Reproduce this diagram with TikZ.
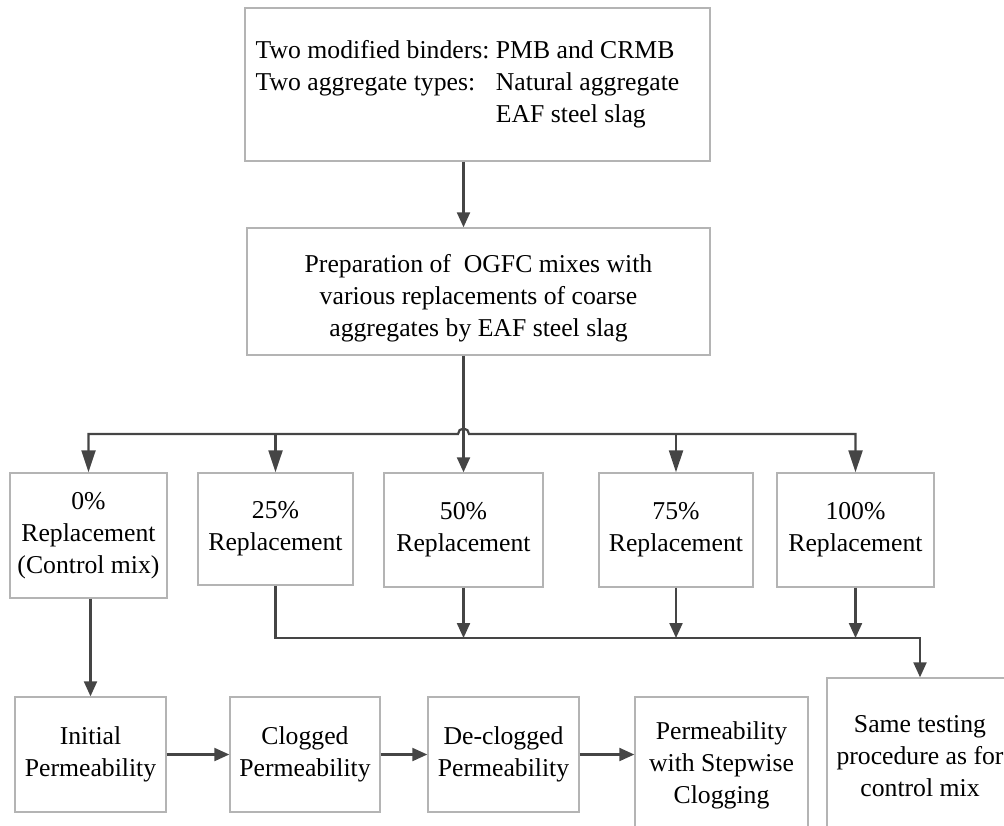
\documentclass[tikz,border=0pt]{standalone}
\usepackage{fontspec}
\setmainfont{Liberation Serif}
\usetikzlibrary{arrows.meta,calc}
\definecolor{boxgray}{HTML}{B4B4B4}
\definecolor{conngray}{HTML}{454545}

\begin{document}
\begin{tikzpicture}[x=0.5pt,y=-0.5pt,
  box/.style={draw=boxgray, line width=0.7pt, align=center, inner sep=0pt,
    font=\fontsize{12.85}{16}\selectfont},
  conn/.style={draw=conngray, line width=1.1pt},
  bigtip/.style={-{Triangle[length=11pt,width=7pt]}},
  bothtip/.style={{Triangle[length=11pt,width=7pt]}-{Triangle[length=11pt,width=7pt]}},
  midtip/.style={-{Triangle[length=7.5pt,width=6.5pt]}}]
\useasboundingbox (0,0) rectangle (1004,825);

\node[box, minimum width=232.5pt, minimum height=76.5pt] (spec) at (477.5,84.5)
  {\begin{tabular}{@{}l@{\ }l@{\hspace{10pt}}}
   Two modified binders: & PMB and CRMB\\
   Two aggregate types: & Natural aggregate\\
   & EAF steel slag
   \end{tabular}};
\node[box, minimum width=231.5pt, minimum height=63.5pt] (prep) at (478.5,291.5)
  {\mbox{}\\Preparation of~ OGFC mixes with\\various replacements of coarse\\aggregates by EAF steel slag};

\node[box, minimum width=78.5pt, minimum height=62.5pt] (zero) at (88.5,535.5) {0\%\\Replacement\\(Control mix)};
\node[box, minimum width=77.5pt, minimum height=56pt] (twentyfive) at (275.5,529) {25\%\\Replacement};
\node[box, minimum width=79.5pt, minimum height=57pt] (fifty) at (463.5,530) {50\%\\Replacement};
\node[box, minimum width=77pt, minimum height=57pt] (seventyfive) at (676,530) {75\%\\Replacement};
\node[box, minimum width=78.5pt, minimum height=57pt] (hundred) at (855.5,530) {100\%\\Replacement};

\node[box, minimum width=75.5pt, minimum height=57.5pt] (initial) at (90.5,754.5) {Initial\\Permeability};
\node[box, minimum width=75pt, minimum height=57.5pt] (clogged) at (305,754.5) {Clogged\\Permeability};
\node[box, minimum width=75.5pt, minimum height=57.5pt] (declogged) at (503.5,754.5) {De-clogged\\Permeability};
\node[box, minimum width=86.5pt, minimum height=68pt] (stepwise) at (721.5,765) {Permeability\\with Stepwise\\Clogging};
\node[box, minimum width=93pt, minimum height=78pt] (same) at (920,756) {Same testing\\procedure as for\\control mix};

\coordinate (bus1) at (0,434);
\coordinate (bus2) at (0,638);

\draw[conn,midtip] (spec.south -| fifty) -- (prep.north -| fifty);
\draw[conn,midtip] (prep.south -| fifty) -- (fifty.north);
\draw[conn,bothtip] (zero.north) |- ($(bus1 -| fifty)+(-5.5,0)$)
  arc[start angle=180, end angle=0, radius=2.75pt] -| (hundred.north);
\foreach \n in {twentyfive,seventyfive}
  \draw[conn,bigtip] (bus1 -| \n) -- (\n.north);

\draw[conn,midtip] (twentyfive.south) |- (bus2 -| same) -- (same.north);
\foreach \n in {fifty,seventyfive,hundred}
  \draw[conn,midtip] (\n.south) -- (bus2 -| \n);

\draw[conn,midtip] (zero.south -| initial) -- (initial.north);
\draw[conn,midtip] (initial) -- (clogged);
\draw[conn,midtip] (clogged) -- (declogged);
\draw[conn,midtip] (declogged.east) -- (declogged.east -| stepwise.west);
\end{tikzpicture}
\end{document}
